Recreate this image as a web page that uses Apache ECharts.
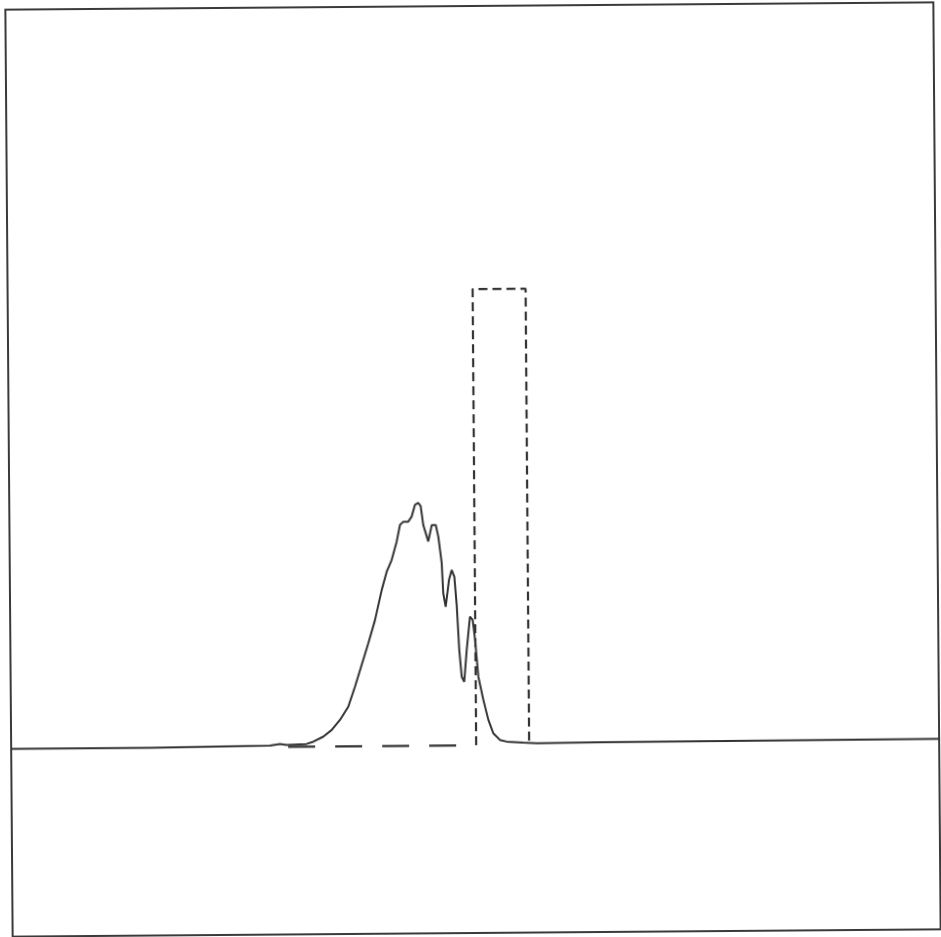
<!DOCTYPE html>
<html>
<head>
<meta charset="utf-8">
<title>Spectrum and pass band</title>
<script src="https://cdn.jsdelivr.net/npm/echarts@6/dist/echarts.min.js"></script>
<style>
  html, body { margin: 0; padding: 0; background: #ffffff; }
  #chart {
    width: 941px; height: 937px;
    transform-origin: 473px 470px;
    transform: rotate(-0.45deg);
  }
</style>
</head>
<body>
<div id="chart"></div>
<script>
// Measured spectrum (arbitrary units)
const specX = [0, 149.6, 278.9, 289.7, 296.9, 318.4, 325.6, 336.4, 345.5, 354.5,
  363.6, 371.0, 378.4, 385.7, 393.1, 400.6, 406.1, 411.6, 417.1, 420.9,
  424.5, 429.8, 433.5, 437.2, 440.8, 443.3, 446.0, 451.2, 455.1, 459.4,
  462.1, 465.5, 466.9, 469.4, 473.2, 476.2, 479.0, 481.3, 483.7, 486.1,
  488.8, 491.7, 495.5, 498.4, 500.8, 504.0, 509.2, 514.4, 519.7, 526.8,
  534.1, 551.9, 566.4, 634.6, 1000];
const specY = [-0.3, -0.26, -0.02, 0.33, 0.1, 0.29, 0.78, 1.87, 3.32, 5.5,
  8.4, 12.8, 17.6, 22.3, 27.4, 34.0, 38.0, 40.6, 44.6, 48.3,
  49.0, 49.0, 50.1, 52.7, 53.1, 52.4, 48.2, 44.6, 48.2, 48.2,
  45.6, 39.8, 33.2, 30.2, 36.1, 38.3, 36.8, 30.6, 20.7, 14.8,
  13.7, 20.7, 28.0, 27.3, 22.9, 14.8, 9.7, 5.3, 2.3, 0.84,
  0.46, 0.2, 0.04, 0.15, 0.31];

// Ideal pass band: flat floor, then a rectangular window
const floorX = [298.5, 501.1];
const floorY = [-0.3, -0.3];
const bandX = [501.1, 501.1, 558.2, 558.2];
const bandY = [-0.3, 100, 100, 0.2];

const zip = (xs, ys) => xs.map((x, i) => [x, ys[i]]);

const ink = '#333333';
const chart = echarts.init(document.getElementById('chart'), null, { renderer: 'canvas' });
chart.setOption({
  animation: false,
  backgroundColor: '#ffffff',
  grid: {
    left: 9, right: 4, top: 6, bottom: 4,
    show: true, borderColor: '#3a3a3a', borderWidth: 2, backgroundColor: 'transparent'
  },
  xAxis: { type: 'value', min: 0, max: 1000, show: false, splitLine: { show: false } },
  yAxis: { type: 'value', min: -41.56, max: 162.27, show: false, splitLine: { show: false } },
  series: [
    {
      type: 'line', data: zip(floorX, floorY), symbol: 'none',
      lineStyle: { color: ink, width: 2.2, type: [27, 20] }
    },
    {
      type: 'line', data: zip(bandX, bandY), symbol: 'none',
      lineStyle: { color: ink, width: 2.2, type: [9, 5] }
    },
    {
      type: 'line', data: zip(specX, specY), symbol: 'none',
      lineStyle: { color: ink, width: 2 }
    }
  ]
});
</script>
</body>
</html>
